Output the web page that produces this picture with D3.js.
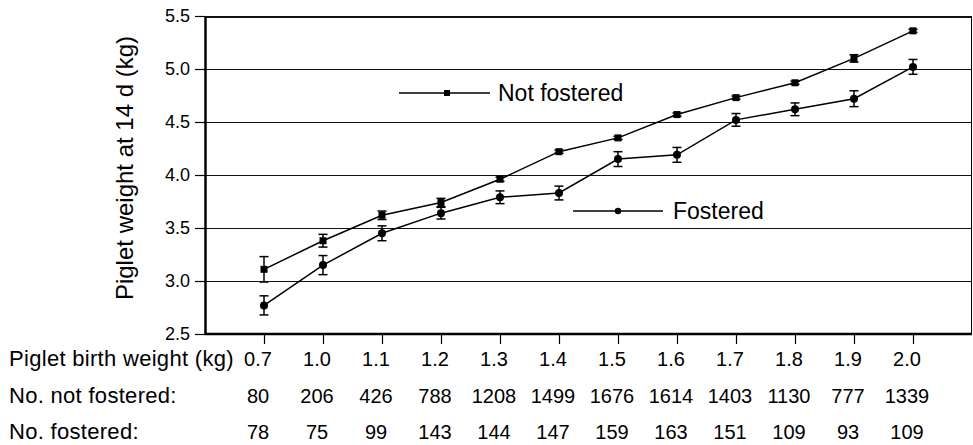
<html>
<head>
<script src='https://d3js.org/d3.v7.min.js'></script>
<style>
body { margin: 0; background: white; }
text { font-family: "Liberation Sans", Arial, sans-serif; fill: black; }
</style>
</head>
<body>
<svg class="chart" width=973 height=445></svg>

<script>
// birth weight classes (kg)
const birthWeights = ["0.7","1.0","1.1","1.2","1.3","1.4","1.5","1.6","1.7","1.8","1.9","2.0"];

// mean weight at 14 d (kg) and error bar half-widths
const notFostered   = [3.11, 3.38, 3.62, 3.74, 3.96, 4.22, 4.35, 4.57, 4.73, 4.87, 5.10, 5.36];
const notFosteredSE = [0.12, 0.06, 0.04, 0.04, 0.02, 0.015, 0.015, 0.015, 0.015, 0.015, 0.035, 0.015];
const fostered      = [2.77, 3.15, 3.45, 3.64, 3.79, 3.83, 4.15, 4.19, 4.52, 4.62, 4.72, 5.02];
const fosteredSE    = [0.09, 0.09, 0.07, 0.055, 0.06, 0.065, 0.07, 0.07, 0.06, 0.06, 0.075, 0.07];

// counts per class
const nNotFostered = [80, 206, 426, 788, 1208, 1499, 1676, 1614, 1403, 1130, 777, 1339];
const nFostered    = [78, 75, 99, 143, 144, 147, 159, 163, 151, 109, 93, 109];

const yTicks = [2.5, 3.0, 3.5, 4.0, 4.5, 5.0, 5.5];

const plotLeft = 205, plotRight = 972, plotTop = 16, plotBottom = 334;

const svg = d3.select(".chart");

const x = d3.scalePoint().domain(birthWeights).range([plotLeft, plotRight]).padding(1);
const y = d3.scaleLinear().domain([2.5, 5.5]).range([plotBottom, plotTop]);

// gridlines
svg.append("g")
  .attr("shape-rendering", "crispEdges")
  .selectAll("line")
  .data(yTicks.slice(1))
  .enter().append("line")
    .attr("x1", plotLeft).attr("x2", plotRight)
    .attr("y1", d => Math.round(y(d)) + 0.5).attr("y2", d => Math.round(y(d)) + 0.5)
    .attr("stroke", "#111")
    .attr("stroke-width", d => d == 5.5 ? 2 : 1);

// right border
svg.append("line")
  .attr("x1", plotRight - 0.5).attr("x2", plotRight - 0.5)
  .attr("y1", plotTop).attr("y2", plotBottom)
  .attr("stroke", "black").attr("stroke-width", 1);

// y axis
const yAxis = svg.append("g")
  .attr("transform", "translate(" + plotLeft + ",0)")
  .call(d3.axisLeft(y).tickValues(yTicks).tickFormat(d3.format(".1f")).tickSize(10).tickSizeOuter(0).tickPadding(5));
yAxis.select(".domain").attr("stroke-width", 2.5);
yAxis.selectAll(".tick line").attr("stroke-width", 1.2);
yAxis.selectAll("text").attr("font-size", 18).attr("font-family", "Liberation Sans, Arial, sans-serif");

// x axis (ticks only, labels in table below)
const xAxis = svg.append("g")
  .attr("transform", "translate(0," + plotBottom + ")")
  .call(d3.axisBottom(x).tickSize(10).tickSizeOuter(0).tickFormat(""));
xAxis.select(".domain").attr("stroke-width", 2.5).attr("d", "M" + plotLeft + ",0H" + plotRight);
xAxis.selectAll(".tick line").attr("stroke-width", 1.2);

// y title
svg.append("text")
  .attr("transform", "translate(133,168) rotate(-90)")
  .attr("text-anchor", "middle")
  .attr("font-size", 24)
  .text("Piglet weight at 14 d (kg)");

// series
function drawSeries(values, errs, shape) {
  const pts = birthWeights.map((c, i) => ({c: c, v: values[i], e: errs[i]}));
  const g = svg.append("g");

  g.append("path")
    .datum(pts)
    .attr("fill", "none")
    .attr("stroke", "black")
    .attr("stroke-width", 1.5)
    .attr("d", d3.line().x(d => x(d.c)).y(d => y(d.v)));

  const eb = g.selectAll(".eb").data(pts).enter().append("g");
  eb.append("line")
    .attr("x1", d => x(d.c)).attr("x2", d => x(d.c))
    .attr("y1", d => y(d.v - d.e)).attr("y2", d => y(d.v + d.e))
    .attr("stroke", "black").attr("stroke-width", 1.5);
  [-1, 1].forEach(s => {
    eb.append("line")
      .attr("x1", d => x(d.c) - 4.5).attr("x2", d => x(d.c) + 4.5)
      .attr("y1", d => y(d.v + s * d.e)).attr("y2", d => y(d.v + s * d.e))
      .attr("stroke", "black").attr("stroke-width", 1.5);
  });

  if (shape == "square") {
    g.selectAll("rect").data(pts).enter().append("rect")
      .attr("x", d => x(d.c) - 3.5).attr("y", d => y(d.v) - 3.5)
      .attr("width", 7).attr("height", 7)
      .attr("fill", "black");
  } else {
    g.selectAll("circle").data(pts).enter().append("circle")
      .attr("cx", d => x(d.c)).attr("cy", d => y(d.v))
      .attr("r", 4)
      .attr("fill", "black");
  }
}

drawSeries(notFostered, notFosteredSE, "square");
drawSeries(fostered, fosteredSE, "circle");

// legend
svg.append("line").attr("x1", 399).attr("x2", 490).attr("y1", 93).attr("y2", 93)
  .attr("stroke", "black").attr("stroke-width", 1.5);
svg.append("rect").attr("x", 444).attr("y", 90).attr("width", 6).attr("height", 6).attr("fill", "black");
svg.append("text").attr("x", 498).attr("y", 101).attr("font-size", 23).text("Not fostered");

svg.append("line").attr("x1", 573).attr("x2", 663).attr("y1", 211).attr("y2", 211)
  .attr("stroke", "black").attr("stroke-width", 1.5);
svg.append("circle").attr("cx", 618).attr("cy", 211).attr("r", 3.2).attr("fill", "black");
svg.append("text").attr("x", 673).attr("y", 219).attr("font-size", 23).text("Fostered");

// table below the axis
const rows = [
  {label: "Piglet birth weight (kg)", vals: birthWeights, y: 366},
  {label: "No. not fostered:", vals: nNotFostered, y: 403},
  {label: "No. fostered:", vals: nFostered, y: 439}
];

rows.forEach(r => {
  svg.append("text")
    .attr("x", 9).attr("y", r.y)
    .attr("font-size", 22)
    .attr("letter-spacing", 0.3)
    .text(r.label);
  svg.append("g").selectAll("text")
    .data(r.vals)
    .enter().append("text")
      .attr("x", (d, i) => x(birthWeights[i]) - 6)
      .attr("y", r.y)
      .attr("text-anchor", "middle")
      .attr("font-size", 20)
      .text(d => d);
});
</script>
</body>
</html>
